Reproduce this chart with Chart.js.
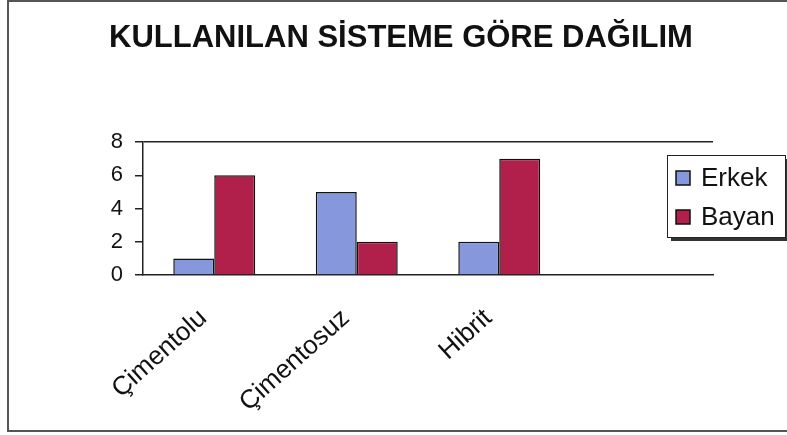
<!DOCTYPE html>
<html>
<head>
<meta charset="utf-8">
<script src="https://cdn.jsdelivr.net/npm/chart.js@4"></script>
<style>
  html, body { margin: 0; padding: 0; background: #fff; }
  #wrap { width: 787px; height: 435px; }
</style>
</head>
<body>
<div id="wrap"><canvas id="sistemChart" width="787" height="435"></canvas></div>
<script>
const categories = ['Çimentolu', 'Çimentosuz', 'Hibrit', ''];
const erkekValues = [1, 5, 2, null];
const bayanValues = [6, 2, 7, null];
const seriesNames = ['Erkek', 'Bayan'];
const yTicks = [0, 2, 4, 6, 8];
const chartTitle = 'KULLANILAN SİSTEME GÖRE DAĞILIM';

const FONT = "'Liberation Sans', Arial, sans-serif";

// outer frame + title, like the excel chart border
const framePlugin = {
  id: 'frame',
  beforeDraw(chart) {
    const ctx = chart.ctx;
    ctx.save();
    ctx.fillStyle = '#fff';
    ctx.fillRect(0, 0, chart.width, chart.height);
    ctx.strokeStyle = '#555';
    ctx.lineWidth = 2;
    ctx.strokeRect(8, 1, 790, 430);
    ctx.fillStyle = '#111';
    ctx.font = 'bold 31px ' + FONT;
    ctx.textAlign = 'center';
    ctx.textBaseline = 'middle';
    ctx.fillText(chartTitle, 401, 38);
    ctx.restore();
  }
};

// boxed legend with a shadow on the right side
const boxLegendPlugin = {
  id: 'boxLegend',
  afterDraw(chart) {
    const ctx = chart.ctx;
    const x = 667, y = 155, w = 118, h = 82;
    ctx.save();
    ctx.fillStyle = '#333';
    ctx.fillRect(x + 4, y + 4, w, h);
    ctx.fillStyle = '#fff';
    ctx.fillRect(x, y, w, h);
    ctx.strokeStyle = '#222';
    ctx.lineWidth = 1;
    ctx.strokeRect(x + 0.5, y + 0.5, w, h);
    ctx.font = '26px ' + FONT;
    ctx.textBaseline = 'middle';
    chart.data.datasets.forEach((ds, i) => {
      const cy = 178 + i * 39;
      ctx.fillStyle = ds.backgroundColor;
      ctx.fillRect(676, cy - 7, 14, 14);
      ctx.strokeStyle = '#111';
      ctx.lineWidth = 1.5;
      ctx.strokeRect(676, cy - 7, 14, 14);
      ctx.fillStyle = '#111';
      ctx.fillText(ds.label, 701, cy + 1);
    });
    ctx.restore();
  }
};

new Chart(document.getElementById('sistemChart'), {
  type: 'bar',
  data: {
    labels: categories,
    datasets: [{
      label: seriesNames[0],
      data: erkekValues,
      backgroundColor: '#8797dc',
      borderColor: '#111',
      borderWidth: 1.5,
      categoryPercentage: 0.575,
      barPercentage: 1
    }, {
      label: seriesNames[1],
      data: bayanValues,
      backgroundColor: '#b0204b',
      borderColor: '#111',
      borderWidth: 1.5,
      categoryPercentage: 0.575,
      barPercentage: 1
    }]
  },
  options: {
    responsive: false,
    animation: false,
    layout: { padding: { left: 0, right: 74, top: 142, bottom: 0 } },
    plugins: {
      legend: { display: false },
      tooltip: { enabled: false },
      title: { display: false }
    },
    scales: {
      x: {
        grid: { display: false },
        border: { color: '#222', width: 1.5 },
        ticks: {
          color: '#111',
          font: { family: FONT, size: 26 },
          minRotation: 42,
          maxRotation: 42,
          autoSkip: false,
          padding: 20,
          labelOffset: -11
        },
        afterFit(scale) { scale.height = 160; }
      },
      y: {
        min: 0,
        max: 8,
        afterBuildTicks(scale) { scale.ticks = yTicks.map(v => ({ value: v })); },
        grid: {
          color: ctx => (ctx.tick && ctx.tick.value === 8 ? '#222' : 'rgba(0,0,0,0)'),
          tickColor: '#222',
          tickLength: 8,
          lineWidth: 1.5
        },
        border: { color: '#222', width: 1.5 },
        ticks: {
          color: '#111',
          font: { family: FONT, size: 22 },
          padding: 12
        },
        afterFit(scale) { scale.width = 143; }
      }
    }
  },
  plugins: [framePlugin, boxLegendPlugin]
});
</script>
</body>
</html>
